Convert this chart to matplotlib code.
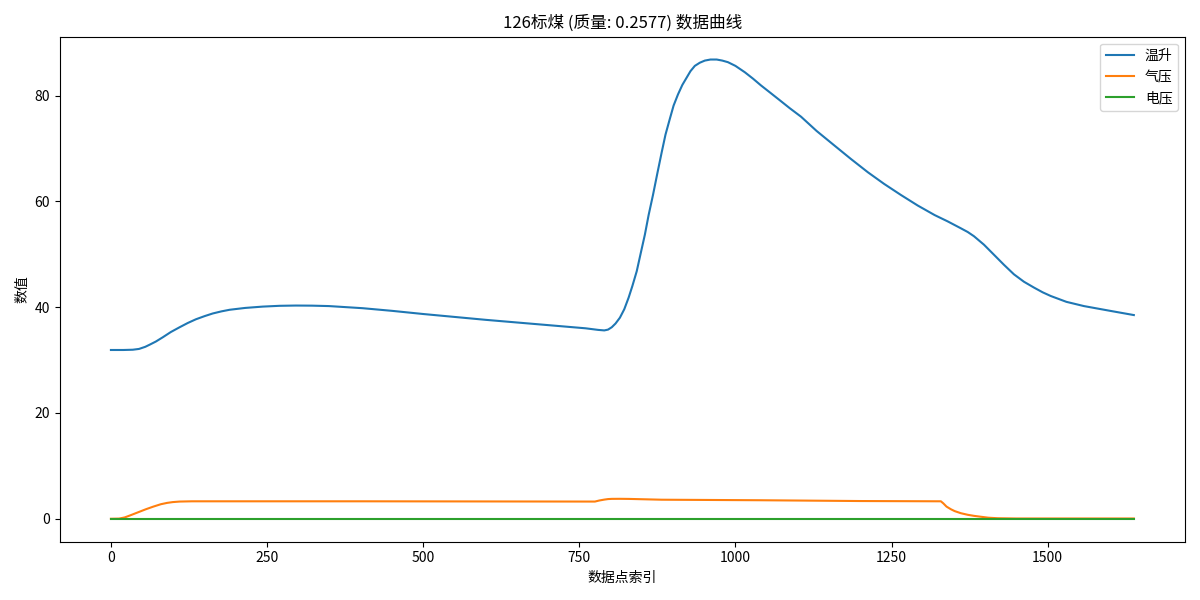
import matplotlib
matplotlib.use("Agg")
import matplotlib.pyplot as plt

plt.rcParams['font.family'] = ['Noto Sans CJK SC', 'DejaVu Sans']
plt.rcParams['axes.unicode_minus'] = False

# 温升
temp_x = [0, 20, 35, 45, 55, 62, 72, 83, 96, 110, 123, 136, 150, 163, 177, 190,
          215, 243, 270, 296, 322, 349, 376, 403, 450, 500, 550, 600, 650, 700,
          760, 780, 790, 796, 802, 808, 815, 822, 829, 835, 842, 848, 855, 861,
          868, 875, 882, 888, 895, 901, 908, 915, 922, 928, 935, 943, 951, 960,
          970, 979, 988, 1000, 1015, 1028, 1041, 1055, 1070, 1087, 1105, 1130,
          1159, 1185, 1212, 1238, 1265, 1292, 1319, 1340, 1361, 1372, 1382, 1398,
          1414, 1430, 1446, 1462, 1478, 1492, 1505, 1530, 1558, 1600, 1638]
temp_y = [31.9, 31.9, 31.95, 32.1, 32.5, 32.9, 33.5, 34.3, 35.3, 36.2, 37.0, 37.7,
          38.3, 38.8, 39.2, 39.5, 39.85, 40.1, 40.25, 40.3, 40.28, 40.2, 40.0, 39.8,
          39.3, 38.7, 38.15, 37.6, 37.1, 36.6, 36.0, 35.7, 35.6, 35.75, 36.2, 36.9,
          38.0, 39.6, 41.8, 44.0, 46.8, 50.0, 53.7, 57.4, 61.2, 65.3, 69.3, 72.6,
          75.6, 78.1, 80.2, 82.0, 83.4, 84.6, 85.6, 86.2, 86.6, 86.8, 86.8, 86.6,
          86.3, 85.6, 84.4, 83.2, 81.9, 80.6, 79.2, 77.6, 76.0, 73.3, 70.5, 68.0,
          65.5, 63.3, 61.2, 59.2, 57.4, 56.2, 54.9, 54.2, 53.4, 51.8, 49.9, 48.0,
          46.2, 44.8, 43.7, 42.8, 42.1, 41.0, 40.2, 39.3, 38.5]

# 气压
pres_x = [0, 13, 22, 30, 43, 56, 68, 80, 90, 99, 110, 130, 400, 775, 782, 790,
          796, 802, 815, 830, 882, 1041, 1200, 1329, 1333, 1338, 1345, 1351, 1361,
          1372, 1382, 1393, 1405, 1420, 1450, 1638]
pres_y = [0.0, 0.03, 0.25, 0.6, 1.2, 1.8, 2.3, 2.75, 3.0, 3.15, 3.25, 3.3, 3.3,
          3.25, 3.45, 3.62, 3.72, 3.76, 3.77, 3.75, 3.6, 3.5, 3.35, 3.3, 2.9, 2.3,
          1.8, 1.45, 1.05, 0.75, 0.55, 0.38, 0.2, 0.1, 0.05, 0.05]

# 电压
volt_x = [0, 1638]
volt_y = [0.0, 0.0]

fig, ax = plt.subplots(figsize=(12, 6), dpi=100)
ax.plot(temp_x, temp_y, label='温升')
ax.plot(pres_x, pres_y, label='气压')
ax.plot(volt_x, volt_y, label='电压')

ax.set_title('126标煤 (质量: 0.2577) 数据曲线')
ax.set_xlabel('数据点索引')
ax.set_ylabel('数值')
ax.legend(loc='upper right')

plt.tight_layout()
plt.savefig('out.png')
